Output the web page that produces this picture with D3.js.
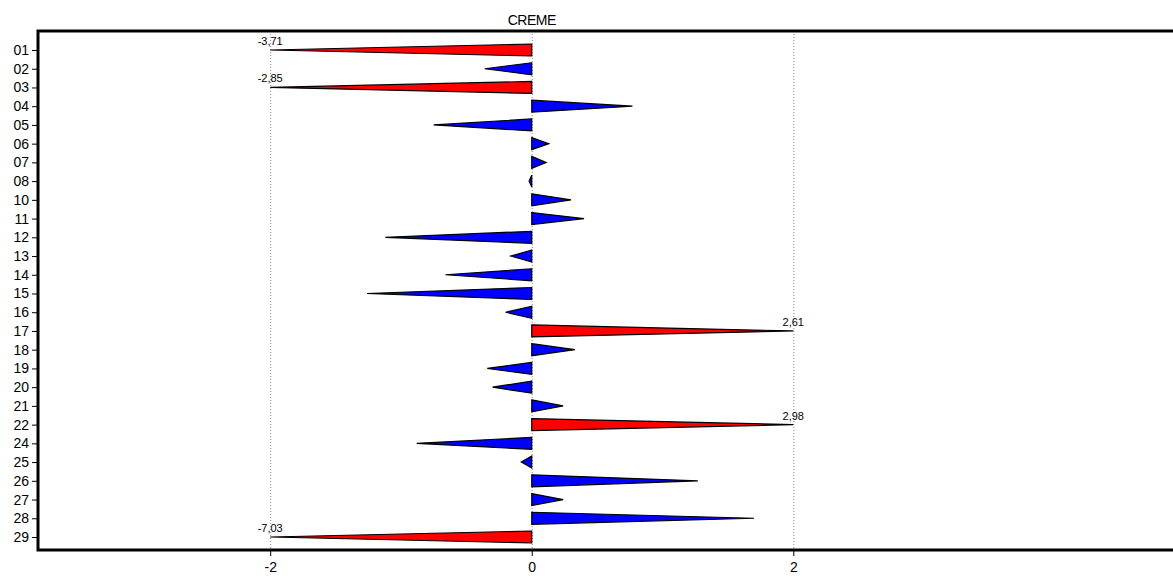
<!DOCTYPE html>
<html>
<head>
<meta charset="utf-8">
<script src="https://cdnjs.cloudflare.com/ajax/libs/d3/7.8.5/d3.min.js"></script>
<style>
  body { margin: 0; background: #fff; overflow: hidden; }
  svg { display: block; }
  text { font-family: "Liberation Sans", Arial, sans-serif; fill: #000; }
</style>
</head>
<body>
<div id="chart-area"></div>
<script>
// rows of the chart, top to bottom
var rows = ["01","02","03","04","05","06","07","08","10","11","12","13","14",
            "15","16","17","18","19","20","21","22","24","25","26","27","28","29"];
// value per row
var values = [-3.71,-0.36,-2.85,0.77,-0.75,0.13,0.11,-0.02,0.30,0.40,-1.12,-0.16,-0.66,
              -1.26,-0.20,2.61,0.33,-0.34,-0.30,0.24,2.98,-0.88,-0.08,1.27,0.24,1.70,-7.03];
var xTicks = [-2, 0, 2];
var limit = 2;
var title = "CREME";

var data = rows.map(function(r, i) { return { row: r, v: values[i] }; });
var loc = d3.formatLocale({ decimal: ",", thousands: ".", grouping: [3], currency: ["", ""], minus: "-" });
var comma = loc.format(".2f");

var W = 1173, H = 578;
var mLeft = 38, mTop = 31, mBottom = 550, mRight = 1200;

var svg = d3.select("#chart-area")
    .append("svg")
    .attr("width", W)
    .attr("height", H);

var x = d3.scaleLinear().domain([-2, 2]).range([270.2, 793.3]);
var y = d3.scalePoint().domain(rows).range([50, 537]);

// title
svg.append("text")
    .attr("x", x(0))
    .attr("y", 25)
    .attr("text-anchor", "middle")
    .style("font-size", "14px")
    .style("letter-spacing", "-0.5px")
    .text(title);

// dotted grid
svg.selectAll("line.grid")
    .data(xTicks)
    .enter()
    .append("line")
    .attr("class", "grid")
    .attr("x1", function(d) { return x(d) + 0.5; })
    .attr("x2", function(d) { return x(d) + 0.5; })
    .attr("y1", mTop)
    .attr("y2", mBottom)
    .attr("stroke", "#8a8a8a")
    .attr("stroke-dasharray", "1,2");

// triangles
var half = 6;
svg.selectAll("path.tri")
    .data(data)
    .enter()
    .append("path")
    .attr("class", "tri")
    .attr("d", function(d) {
        var v = Math.max(-limit, Math.min(limit, d.v));
        var yc = y(d.row);
        return "M" + x(0) + "," + (yc - half) +
               "L" + x(v) + "," + yc +
               "L" + x(0) + "," + (yc + half) + "Z";
    })
    .attr("fill", function(d) { return Math.abs(d.v) > limit ? "#ff0000" : "#0000ff"; })
    .attr("stroke", "#000")
    .attr("stroke-width", 1.2);

// labels for clipped values
svg.selectAll("text.val")
    .data(data.filter(function(d) { return Math.abs(d.v) > limit; }))
    .enter()
    .append("text")
    .attr("class", "val")
    .attr("x", function(d) { return x(d.v < 0 ? -limit : limit); })
    .attr("y", function(d) { return y(d.row) - 5; })
    .attr("text-anchor", "middle")
    .style("font-size", "11px")
    .text(function(d) { return comma(d.v); });

// y axis
var yAxis = svg.append("g")
    .attr("transform", "translate(" + mLeft + ",0)")
    .call(d3.axisLeft(y).tickSize(6).tickPadding(3));
yAxis.select(".domain").remove();
yAxis.selectAll("text").style("font-size", "14px").style("font-family", "'Liberation Sans', Arial, sans-serif");

// x axis
var xAxis = svg.append("g")
    .attr("transform", "translate(0," + mBottom + ")")
    .call(d3.axisBottom(x).tickValues(xTicks).tickFormat(loc.format("d")).tickSize(6).tickPadding(6));
xAxis.select(".domain").remove();
xAxis.selectAll("text").style("font-size", "14px").style("font-family", "'Liberation Sans', Arial, sans-serif");

// frame: open on the right, it runs off the page
svg.append("path")
    .attr("d", "M" + mRight + "," + mTop + "H" + mLeft + "V" + mBottom + "H" + mRight)
    .attr("fill", "none")
    .attr("stroke", "#000")
    .attr("stroke-width", 3);
</script>
</body>
</html>
